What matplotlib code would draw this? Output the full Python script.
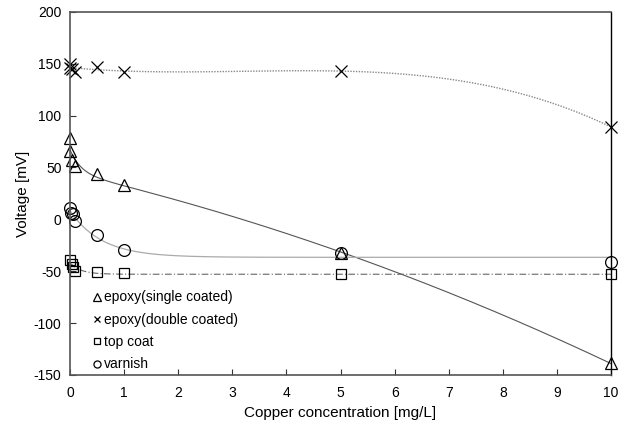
import numpy as np
import matplotlib.pyplot as plt

plt.rcParams["font.family"] = ["Liberation Sans", "DejaVu Sans"]
plt.rcParams["axes.unicode_minus"] = False

# copper concentration (mg/L) and measured voltage (mV) for each coating
x_single = [0, 0, 0.03, 0.1, 0.5, 1, 5, 10]
v_single = [78, 66, 57, 51, 44, 33, -32, -139]

x_double = [0, 0, 0.03, 0.1, 0.5, 1, 5, 10]
v_double = [150, 146, 145, 142, 147, 142, 143, 89]

x_top = [0, 0.03, 0.05, 0.1, 0.5, 1, 5, 10]
v_top = [-39, -43, -46, -50, -51, -52, -53, -53]

x_varnish = [0, 0.02, 0.05, 0.1, 0.5, 1, 5, 10]
v_varnish = [11, 6, 5, -2, -15, -30, -32, -41]


def exp_fit(x, y, extra=()):
    # y = a + b*exp(-k x) (+ extra terms), k by grid search, rest by least squares
    x = np.asarray(x, float)
    y = np.asarray(y, float)
    best = None
    for k in np.linspace(0.05, 5, 500):
        cols = [np.ones_like(x), np.exp(-k * x)] + [f(x) for f in extra]
        A = np.column_stack(cols)
        coef, *_ = np.linalg.lstsq(A, y, rcond=None)
        err = np.sum((A @ coef - y) ** 2)
        if best is None or err < best[0]:
            best = (err, k, coef)
    _, k, coef = best

    def curve(t):
        cols = [np.ones_like(t), np.exp(-k * t)] + [f(t) for f in extra]
        return np.column_stack(cols) @ coef
    return curve


xx = np.linspace(0, 10, 400)

fig, ax = plt.subplots(figsize=(6.3, 4.26), dpi=100)
fig.subplots_adjust(left=0.111, right=0.970, top=0.972, bottom=0.120)

# trend lines
single_fit = exp_fit(x_single, v_single, extra=(lambda t: t, lambda t: t ** 2))
ax.plot(xx, single_fit(xx), color="#555555", lw=0.8)
ax.plot(xx, np.polyval(np.polyfit(x_double, v_double, 3), xx),
        color="#888888", lw=1.0, linestyle=(0, (1, 1)))
ax.plot(xx, exp_fit(x_varnish, v_varnish)(xx), color="#aaaaaa", lw=0.9)
ax.plot(xx, exp_fit(x_top, v_top)(xx), color="#666666", lw=0.8,
        linestyle=(0, (6, 2, 1, 2)))

mk = dict(linestyle="none", markerfacecolor="none", markeredgecolor="black",
          markeredgewidth=0.9, clip_on=False)
ax.plot(x_single, v_single, marker="^", markersize=9, label="epoxy(single coated)", **mk)
ax.plot(x_double, v_double, marker="x", markersize=8, label="epoxy(double coated)", **mk)
ax.plot(x_top, v_top, marker="s", markersize=6.5, label="top coat", **mk)
ax.plot(x_varnish, v_varnish, marker="o", markersize=8.5, label="varnish", **mk)

ax.set_xlim(0, 10)
ax.set_ylim(-150, 200)
ax.set_xticks(range(0, 11))
ax.set_yticks(range(-150, 201, 50))
ax.tick_params(direction="in", length=4, width=0.8, labelsize=10,
               colors="#333333", labelcolor="black")
ax.tick_params(axis="x", pad=8)
ax.tick_params(axis="y", pad=6)
for side in ["left", "top", "bottom"]:
    ax.spines[side].set_color("#555555")
    ax.spines[side].set_linewidth(1.2)
ax.spines["right"].set_color("black")
ax.spines["right"].set_linewidth(1.0)

ax.set_xlabel("Copper concentration [mg/L]", fontsize=11, labelpad=4)
ax.set_ylabel("Voltage [mV]", fontsize=11, labelpad=3)

leg = ax.legend(loc="lower left", bbox_to_anchor=(0.02, -0.025), frameon=False,
                fontsize=10, handlelength=0.6, handletextpad=0.15,
                labelspacing=0.6, markerscale=0.6)

fig.savefig("out.png", dpi=100)
